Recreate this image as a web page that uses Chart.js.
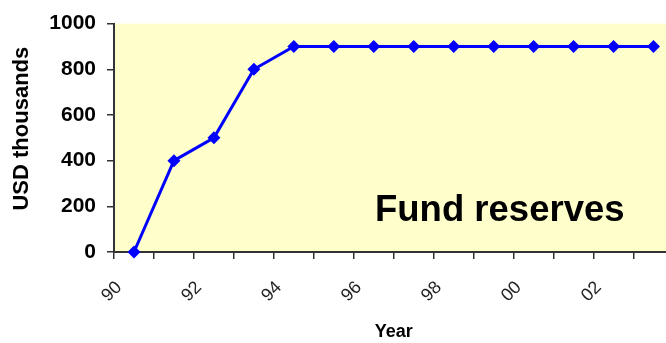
<!DOCTYPE html>
<html>
<head>
<meta charset="utf-8">
<script src="https://cdn.jsdelivr.net/npm/chart.js@4/dist/chart.umd.min.js"></script>
<style>
  html, body { margin: 0; padding: 0; background: #fff; overflow: hidden; }
  #wrap { width: 680px; height: 343px; }
</style>
</head>
<body>
<div id="wrap"><canvas id="reserves" width="680" height="343"></canvas></div>
<script>
// fund reserves by year, USD thousands
const years = ['90', '91', '92', '93', '94', '95', '96', '97', '98', '99', '00', '01', '02', '03'];
const reserves = [0, 400, 500, 800, 900, 900, 900, 900, 900, 900, 900, 900, 900, 900];
const yTicks = [0, 200, 400, 600, 800, 1000];

const AXIS = '#333333';
const FONT = "'Liberation Sans', Arial, sans-serif";

// pale yellow plot area plus the caption inside it
const plotBack = {
    id: 'plotBack',
    beforeDraw(chart) {
        const { ctx, chartArea: a } = chart;
        ctx.save();
        ctx.fillStyle = '#FFFFCC';
        ctx.fillRect(a.left, a.top, a.right - a.left, a.bottom - a.top);
        ctx.restore();
    },
    afterDatasetsDraw(chart) {
        const { ctx, chartArea: a } = chart;
        ctx.save();
        ctx.fillStyle = '#000';
        ctx.font = 'bold 36.5px ' + FONT;
        ctx.textAlign = 'left';
        ctx.textBaseline = 'alphabetic';
        ctx.fillText('Fund reserves', a.left + 261, a.top + 197);
        ctx.restore();
    }
};

new Chart(document.getElementById('reserves'), {
    type: 'line',
    data: {
        labels: years,
        datasets: [{
            data: reserves,
            borderColor: '#0000FF',
            backgroundColor: '#0000FF',
            borderWidth: 3,
            pointStyle: 'rectRot',
            pointRadius: 6.5,
            pointBorderWidth: 0,
            tension: 0
        }]
    },
    options: {
        responsive: false,
        animation: false,
        clip: false,
        layout: { padding: { top: 23, right: 6, left: 0, bottom: 0 } },
        plugins: {
            legend: { display: false },
            tooltip: { enabled: false }
        },
        scales: {
            x: {
                offset: true,
                grid: {
                    offset: true,
                    drawOnChartArea: false,
                    drawTicks: true,
                    tickLength: 7,
                    color: AXIS,
                    lineWidth: 1.5
                },
                border: { display: true, color: AXIS, width: 2 },
                ticks: {
                    autoSkip: false,
                    minRotation: 45,
                    maxRotation: 45,
                    padding: 18,
                    labelOffset: -15,
                    color: '#222',
                    font: { family: FONT, size: 18 },
                    callback: (v, i) => (i % 2 === 0 ? years[i] : '')
                },
                title: {
                    display: true,
                    text: 'Year',
                    color: '#000',
                    font: { family: FONT, size: 18, weight: 'bold' },
                    padding: { top: 4, bottom: 0 }
                },
                afterFit(scale) {
                    // plot runs to the right edge; the last year is cut off
                    scale.height = 91;
                    scale.paddingLeft = 0;
                    scale.paddingRight = 0;
                }
            },
            y: {
                min: 0,
                max: 1000,
                afterBuildTicks(scale) { scale.ticks = yTicks.map(v => ({ value: v })); },
                grid: {
                    drawOnChartArea: false,
                    drawTicks: true,
                    tickLength: 7,
                    color: AXIS,
                    lineWidth: 1.5
                },
                border: { display: true, color: AXIS, width: 2 },
                ticks: {
                    padding: 11,
                    color: '#000',
                    font: { family: FONT, size: 21, weight: 'bold' },
                    callback: v => String(v)
                },
                title: {
                    display: true,
                    text: '   USD thousands',
                    color: '#000',
                    font: { family: FONT, size: 22, weight: 'bold' },
                    padding: { top: 9, bottom: 0 }
                },
                afterFit(scale) { scale.width = 114; }
            }
        }
    },
    plugins: [plotBack]
});
</script>
</body>
</html>
